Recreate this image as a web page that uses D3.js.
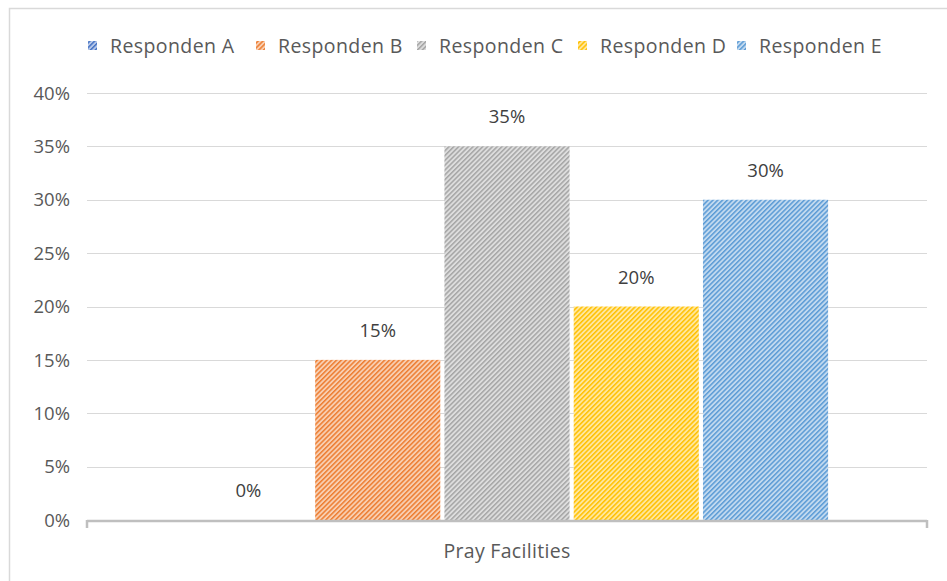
<!DOCTYPE html>
<html>
<head>
<meta charset="utf-8">
<script src="https://cdn.jsdelivr.net/npm/d3@7"></script>
<style>
  html, body { margin: 0; padding: 0; background: #fff; }
  svg { display: block; }
  text { font-family: "Open Sans", sans-serif; }
</style>
</head>
<body>
<svg id="chart" width="947" height="581"></svg>
<script>
const categories = ["Pray Facilities"];
const series = ["Responden A", "Responden B", "Responden C", "Responden D", "Responden E"];
const values = [0, 15, 35, 20, 30];
const colors = ["#4472c4", "#ed7d31", "#a5a5a5", "#ffc000", "#5b9bd5"];
const yTicks = [0, 5, 10, 15, 20, 25, 30, 35, 40];

const svg = d3.select("#chart");
const plot = { left: 87, right: 927, top: 93, bottom: 520 };
const FS = 19.5;

// chart border
svg.append("rect").attr("x", 9.5).attr("y", 8.5).attr("width", 960).attr("height", 600)
  .attr("fill", "none").attr("stroke", "#d9d9d9").attr("stroke-width", 1.5);

// patterns
const defs = svg.append("defs");
series.forEach((s, i) => {
  const bg = d3.interpolateRgb(colors[i], "#ffffff")(0.62);
  const p = defs.append("pattern").attr("id", "pat" + i)
    .attr("patternUnits", "userSpaceOnUse").attr("width", 3.4).attr("height", 3.4)
    .attr("patternTransform", "rotate(45)");
  p.append("rect").attr("width", 3.4).attr("height", 3.4).attr("fill", bg);
  p.append("rect").attr("x", 0).attr("width", 1.5).attr("height", 3.4).attr("fill", colors[i]);
});

const y = d3.scaleLinear().domain([0, 40]).range([plot.bottom, plot.top]);
const x0 = d3.scaleBand().domain(categories).range([plot.left, plot.right]).paddingInner(0).paddingOuter(0.154);
const x1 = d3.scaleBand().domain(series).range([0, x0.bandwidth()]).paddingInner(0.032).paddingOuter(0);

// gridlines
svg.append("g").selectAll("line").data(yTicks.filter(d => d > 0)).join("line")
  .attr("x1", plot.left).attr("x2", plot.right)
  .attr("y1", d => Math.round(y(d)) + 0.5).attr("y2", d => Math.round(y(d)) + 0.5)
  .attr("stroke", "#d9d9d9").attr("stroke-width", 1);

// y labels
svg.append("g").selectAll("text").data(yTicks).join("text")
  .attr("x", 70).attr("y", d => y(d)).attr("dy", "0.36em")
  .attr("text-anchor", "end").attr("font-size", 18.5).attr("fill", "#595959")
  .text(d => d + "%");

// bars
const g = svg.append("g").attr("transform", `translate(${x0(categories[0])},0)`);
g.selectAll("rect").data(values).join("rect")
  .attr("x", (d, i) => x1(series[i]))
  .attr("width", x1.bandwidth())
  .attr("y", d => y(d))
  .attr("height", d => y(0) - y(d))
  .attr("fill", (d, i) => `url(#pat${i})`);

// data labels
g.selectAll("text").data(values).join("text")
  .attr("x", (d, i) => x1(series[i]) + x1.bandwidth() / 2)
  .attr("y", d => y(d) - 23)
  .attr("text-anchor", "middle").attr("font-size", 18.5).attr("fill", "#404040")
  .text(d => d + "%");

// x axis
const xa = svg.append("g");
xa.append("line").attr("x1", plot.left).attr("x2", plot.right)
  .attr("y1", plot.bottom + 1).attr("y2", plot.bottom + 1)
  .attr("stroke", "#bfbfbf").attr("stroke-width", 2.5);
[plot.left, plot.right].forEach(xx => {
  xa.append("line").attr("x1", xx).attr("x2", xx)
    .attr("y1", plot.bottom).attr("y2", plot.bottom + 8)
    .attr("stroke", "#bfbfbf").attr("stroke-width", 2.5);
});
xa.append("text").attr("x", x0(categories[0]) + x0.bandwidth() / 2).attr("y", 557.5)
  .attr("text-anchor", "middle").attr("font-size", FS).attr("fill", "#595959")
  .attr("letter-spacing", 0.3)
  .text(categories[0]);

// legend
const leg = svg.append("g");
const legX = [88, 256, 417, 578, 737];
series.forEach((s, i) => {
  leg.append("rect").attr("x", legX[i]).attr("y", 41).attr("width", 9).attr("height", 9)
    .attr("fill", `url(#pat${i})`);
  leg.append("text").attr("x", legX[i] + 22).attr("y", 46).attr("dy", "0.36em")
    .attr("font-size", FS).attr("fill", "#595959").attr("letter-spacing", 0.4).text(s);
});
</script>
</body>
</html>
